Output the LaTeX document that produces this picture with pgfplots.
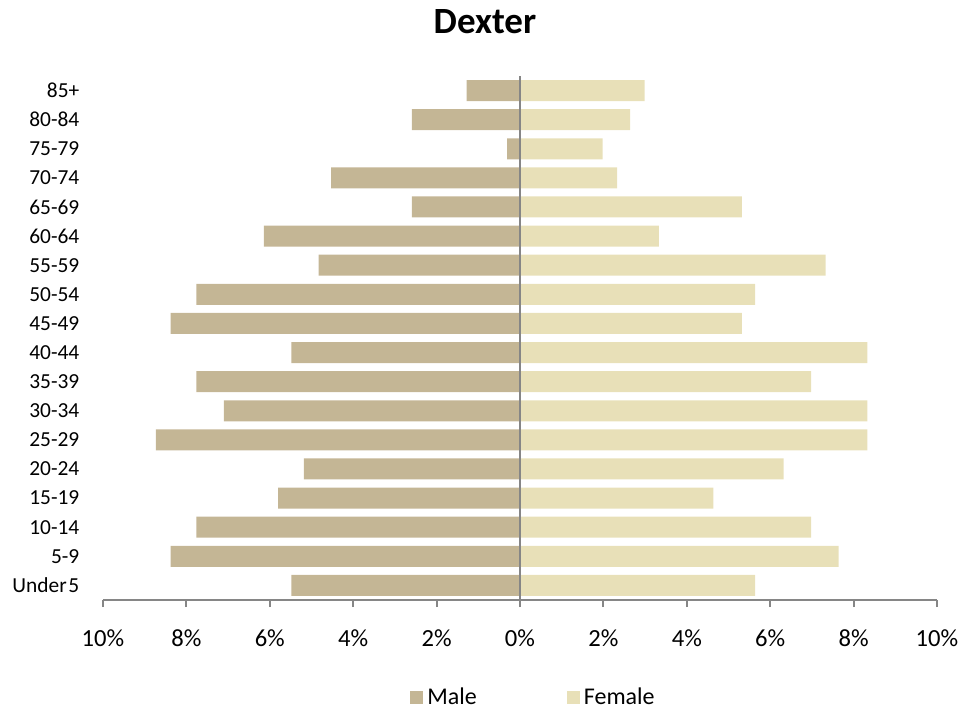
\documentclass[border=0pt]{standalone}
\usepackage{fontspec}
\setmainfont{Carlito}
\usepackage{pgfplots}
\pgfplotsset{compat=1.18}

\definecolor{malec}{HTML}{C4B695}
\definecolor{femalec}{HTML}{E8E0B8}
\definecolor{axisgray}{HTML}{868686}

\begin{document}
\begin{tikzpicture}
\useasboundingbox (-51.5pt,-55.5pt) rectangle (438pt,300pt);

\begin{axis}[
  at={(0,0)}, anchor=south west,
  scale only axis,
  width=417pt, height=262pt,
  xmin=-10, xmax=10,
  ymin=-0.5, ymax=17.5,
  xbar, bar width=10.5pt, bar shift=0pt,
  axis x line*=bottom,
  axis y line*=left,
  x axis line style={draw=axisgray, line width=1pt, -},
  y axis line style={draw=none},
  xtick={-10,-8,...,10},
  xticklabels={10\%,8\%,6\%,4\%,2\%,0\%,2\%,4\%,6\%,8\%,10\%},
  xtick style={draw=axisgray, line width=1pt},
  tick align=outside,
  major tick length=3.5pt,
  ytick={0,...,17},
  yticklabels={Under\hspace{0.08em}5,5-9,10-14,15-19,20-24,25-29,30-34,35-39,40-44,45-49,50-54,55-59,60-64,65-69,70-74,75-79,80-84,85+},
  ytick style={draw=none},
  /pgf/number format/assume math mode=true,
  xticklabel style={font=\fontsize{12.3}{14}\selectfont, anchor=base, yshift=-19.5pt},
  yticklabel style={font=\fontsize{10.7}{12}\selectfont, anchor=east, xshift=-4.8pt},
  legend columns=2,
  legend style={at={(0.5174,-0.1865)}, anchor=center, draw=none, fill=none,
    font=\fontsize{12}{14}\selectfont,
    /tikz/every even column/.append style={column sep=43pt}},
  legend image code/.code={\fill[#1] (0pt,-3.3pt) rectangle (6.5pt,3.3pt);},
]
% male shares drawn to the left
\addplot[fill=malec, draw=none] coordinates {
(-5.48,0) (-8.38,1) (-7.76,2) (-5.80,3) (-5.18,4) (-8.73,5)
(-7.10,6) (-7.76,7) (-5.48,8) (-8.38,9) (-7.76,10) (-4.83,11)
(-6.14,12) (-2.59,13) (-4.53,14) (-0.31,15) (-2.59,16) (-1.28,17)
};
\addlegendentry{Male}
\addplot[fill=femalec, draw=none] coordinates {
(5.64,0) (7.64,1) (6.98,2) (4.64,3) (6.32,4) (8.33,5)
(8.33,6) (6.98,7) (8.33,8) (5.32,9) (5.64,10) (7.33,11)
(3.33,12) (5.32,13) (2.33,14) (1.98,15) (2.64,16) (2.99,17)
};
\addlegendentry{Female}
\draw[axisgray, line width=1pt] (axis cs:0,-0.5) -- (axis cs:0,17.5);
\end{axis}

\node[font=\bfseries\fontsize{18.5}{22}\selectfont] at (191pt,289pt) {Dexter};
\end{tikzpicture}
\end{document}
